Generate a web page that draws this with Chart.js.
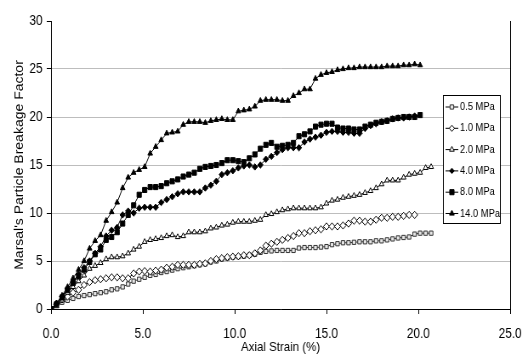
<!DOCTYPE html>
<html>
<head>
<meta charset="utf-8">
<script src="https://cdn.jsdelivr.net/npm/chart.js@4.4.0/dist/chart.umd.min.js"></script>
<style>
  html, body { margin: 0; padding: 0; background: #fff; overflow: hidden; }
  /* the original picture is squeezed sideways, so draw wider and squeeze */
  #wrap { width: 614px; height: 354px; transform: scaleX(0.8502); transform-origin: 0 0; }
</style>
</head>
<body>
<div id="wrap"><canvas id="breakage-chart" width="614" height="354"></canvas></div>
<script>
const strain = [
  0.0, 0.3, 0.6, 0.9, 1.2, 1.5, 1.8, 2.1, 2.4, 2.7,
  3.0, 3.3, 3.6, 3.9, 4.2, 4.5, 4.8, 5.1, 5.4, 5.7,
  6.0, 6.3, 6.6, 6.9, 7.2, 7.5, 7.8, 8.1, 8.4, 8.7,
  9.0, 9.3, 9.6, 9.9, 10.2, 10.5, 10.8, 11.1, 11.4, 11.7,
  12.0, 12.3, 12.6, 12.9, 13.2, 13.5, 13.8, 14.1, 14.4, 14.7,
  15.0, 15.3, 15.6, 15.9, 16.2, 16.5, 16.8, 17.1, 17.4, 17.7,
  18.0, 18.3, 18.6, 18.9, 19.2, 19.5, 19.8, 20.1, 20.4, 20.7
];

const labels = ["0.5 MPa", "1.0 MPa", "2.0 MPa", "4.0 MPa", "8.0 MPa", "14.0 MPa"];

const mpa05 = [
  0, 0.4, 0.7, 0.9, 1.1, 1.3, 1.4, 1.5, 1.6, 1.7,
  1.8, 2.0, 2.1, 2.3, 2.6, 2.9, 3.1, 3.3, 3.5, 3.6,
  3.8, 3.9, 4.05, 4.2, 4.3, 4.4, 4.5, 4.6, 4.7, 4.9,
  5.0, 5.2, 5.3, 5.4, 5.45, 5.5, 5.6, 5.7, 5.9, 6.0,
  6.05, 6.1, 6.1, 6.1, 6.1, 6.35, 6.4, 6.4, 6.4, 6.45,
  6.5, 6.7, 6.8, 6.9, 6.9, 6.95, 7.0, 7.0, 7.0, 7.1,
  7.1, 7.2, 7.3, 7.4, 7.45, 7.5, 7.8, 7.9, 7.9, 7.9
];
const mpa10 = [
  0, 0.5, 1.0, 1.3, 1.7, 2.0, 2.5, 2.8, 3.0, 3.1,
  3.2, 3.3, 3.3, 3.2, 3.2, 3.7, 3.9, 3.95, 3.9, 4.0,
  4.1, 4.3, 4.4, 4.6, 4.6, 4.6, 4.6, 4.7, 4.75, 5.0,
  5.2, 5.3, 5.4, 5.45, 5.5, 5.6, 5.6, 5.8, 6.1, 6.6,
  6.8, 7.0, 7.2, 7.4, 7.6, 7.9, 7.9, 8.1, 8.2, 8.3,
  8.6, 8.6, 8.6, 8.7, 8.9, 9.2, 9.2, 9.1, 9.1, 9.3,
  9.5, 9.5, 9.6, 9.6, 9.7, 9.8, 9.8
];
const mpa20 = [
  0, 0.3, 0.9, 1.7, 2.3, 2.9, 3.5, 4.2, 4.5, 4.8,
  5.2, 5.4, 5.4, 5.5, 5.8, 6.2, 6.5, 7.0, 7.2, 7.3,
  7.4, 7.6, 7.7, 7.5, 7.6, 8.0, 8.0, 8.0, 8.1, 8.4,
  8.5, 8.7, 8.8, 9.0, 9.1, 9.1, 9.1, 9.2, 9.3, 9.8,
  9.9, 10.1, 10.3, 10.4, 10.5, 10.5, 10.5, 10.5, 10.5, 10.6,
  11.0, 11.3, 11.4, 11.6, 11.7, 11.8, 11.9, 12.1, 12.3, 12.6,
  13.0, 13.4, 13.4, 13.4, 13.7, 14.0, 14.1, 14.2, 14.7, 14.8
];
const mpa40 = [
  0, 0.6, 1.3, 2.1, 2.9, 3.6, 4.3, 5.0, 5.8, 6.5,
  7.6, 8.2, 8.5, 9.8, 10.2, 10.0, 10.5, 10.6, 10.6, 10.6,
  11.1, 11.4, 11.7, 12.0, 12.2, 12.2, 12.2, 12.2, 12.6, 12.9,
  13.3, 14.0, 14.2, 14.4, 14.7, 14.9, 15.0, 14.8, 15.0, 15.6,
  15.9, 16.3, 16.6, 16.8, 16.8, 16.8, 17.4, 17.7, 17.9, 18.1,
  18.4, 18.5, 18.5, 18.4, 18.4, 18.3, 18.3, 18.8, 19.1, 19.3,
  19.5, 19.6, 19.8, 19.9, 19.9, 20.0, 20.1
];
const mpa80 = [
  0, 0.5, 1.2, 2.0, 2.7, 3.4, 4.1, 4.9, 5.7, 6.2,
  7.2, 7.5, 8.0, 8.9, 9.8, 10.8, 11.9, 12.4, 12.7, 12.7,
  12.8, 13.1, 13.3, 13.5, 13.8, 14.0, 14.2, 14.6, 14.8, 14.9,
  15.0, 15.2, 15.5, 15.5, 15.4, 15.3, 15.7, 16.1, 16.7, 17.1,
  17.3, 16.9, 17.0, 17.1, 17.3, 18.0, 18.2, 18.5, 19.0, 19.2,
  19.3, 19.3, 18.9, 18.8, 18.8, 18.7, 18.7, 19.0, 19.2, 19.4,
  19.5, 19.6, 19.8, 19.9, 20.0, 20.0, 20.0, 20.2
];
const mpa140 = [
  0, 0.6, 1.4, 2.3, 3.2, 4.1, 5.0, 6.3, 7.1, 7.7,
  9.2, 10.1, 11.1, 12.6, 13.7, 14.2, 14.5, 14.8, 16.2, 16.9,
  17.6, 18.3, 18.4, 18.5, 19.2, 19.5, 19.5, 19.5, 19.4, 19.6,
  19.7, 19.8, 19.7, 19.7, 20.6, 20.7, 20.8, 21.1, 21.7, 21.8,
  21.8, 21.8, 21.7, 21.7, 22.2, 22.5, 22.9, 22.9, 24.0, 24.4,
  24.6, 24.7, 24.9, 25.0, 25.1, 25.1, 25.2, 25.2, 25.2, 25.2,
  25.2, 25.3, 25.3, 25.3, 25.4, 25.4, 25.5, 25.4
];

const xTicks = [0, 5, 10, 15, 20, 25];
const yTicks = [0, 5, 10, 15, 20, 25, 30];

const seriesValues = [mpa05, mpa10, mpa20, mpa40, mpa80, mpa140];
const markers = [
  { style: "rect", radius: 3, fill: "#e6e6e6", line: "#333" },
  { style: "rectRot", radius: 3.6, fill: "#fff", line: "#000" },
  { style: "triangle", radius: 3.2, fill: "#fff", line: "#000" },
  { style: "rectRot", radius: 3.2, fill: "#000", line: "#000" },
  { style: "rect", radius: 3.6, fill: "#000", line: "#000" },
  { style: "triangle", radius: 3.2, fill: "#000", line: "#000" }
];

const FONT = "'Liberation Sans', Arial, sans-serif";

const datasets = seriesValues.map((vals, i) => ({
  label: labels[i],
  data: vals.map((v, j) => ({ x: strain[j], y: v })),
  borderColor: markers[i].line,
  borderWidth: 1,
  pointStyle: markers[i].style,
  pointRadius: markers[i].radius,
  pointBackgroundColor: markers[i].fill,
  pointBorderColor: markers[i].line,
  pointBorderWidth: 1,
  fill: false,
  tension: 0,
  order: 6 - i
}));

// marker shapes for the boxed legend
function drawMarker(ctx, m, x, y) {
  const r = m.radius;
  ctx.beginPath();
  if (m.style === "rect") {
    const s = r * Math.SQRT1_2;
    ctx.rect(x - s, y - s, 2 * s, 2 * s);
  } else if (m.style === "rectRot") {
    const s = r * Math.SQRT1_2 * 1.2;
    ctx.moveTo(x - s, y); ctx.lineTo(x, y + s); ctx.lineTo(x + s, y); ctx.lineTo(x, y - s);
    ctx.closePath();
  } else {
    ctx.moveTo(x, y - r); ctx.lineTo(x + r * 0.87, y + r * 0.5); ctx.lineTo(x - r * 0.87, y + r * 0.5);
    ctx.closePath();
  }
  ctx.fillStyle = m.fill;
  ctx.fill();
  ctx.strokeStyle = m.line;
  ctx.lineWidth = 1;
  ctx.stroke();
}

const framePlugin = {
  id: "frame",
  afterDraw(chart) {
    const ctx = chart.ctx;
    const a = chart.chartArea;
    ctx.save();
    // right edge of the plot area
    ctx.strokeStyle = "#000";
    ctx.lineWidth = 1;
    ctx.beginPath();
    ctx.moveTo(Math.round(a.right) + 0.5, a.top);
    ctx.lineTo(Math.round(a.right) + 0.5, a.bottom);
    ctx.stroke();

    // legend box
    const bx = 521, by = 95, bw = 67, bh = 128;
    ctx.fillStyle = "#fff";
    ctx.fillRect(bx, by, bw, bh);
    ctx.strokeRect(bx + 0.5, by + 0.5, bw, bh);
    ctx.font = "11px " + FONT;
    ctx.textBaseline = "middle";
    labels.forEach((t, i) => {
      const y = by + 12 + i * 21.3;
      ctx.strokeStyle = "#000";
      ctx.beginPath();
      ctx.moveTo(bx + 3, y); ctx.lineTo(bx + 18, y);
      ctx.stroke();
      drawMarker(ctx, markers[i], bx + 10.5, y);
      ctx.fillStyle = "#000";
      ctx.fillText(t, bx + 20, y);
    });
    ctx.restore();
  }
};

new Chart(document.getElementById("breakage-chart"), {
  type: "line",
  data: { datasets },
  options: {
    responsive: false,
    animation: false,
    layout: { padding: { top: 21, right: 14, left: 0, bottom: 0 } },
    plugins: { legend: { display: false }, tooltip: { enabled: false } },
    scales: {
      x: {
        type: "linear",
        min: xTicks[0],
        max: xTicks[xTicks.length - 1],
        afterBuildTicks: (s) => { s.ticks = xTicks.map((v) => ({ value: v })); },
        afterFit: (s) => { s.height = 45; s.paddingRight = 0; s.paddingLeft = 0; },
        ticks: { callback: (v) => Number(v).toFixed(1), color: "#000", font: { family: FONT, size: 14 }, padding: 12, maxRotation: 0 },
        grid: { drawOnChartArea: false, tickLength: 5, tickColor: "#000" },
        border: { color: "#000", width: 1 },
        title: { display: true, text: "Axial Strain (%)", color: "#000", font: { family: FONT, size: 13.5 }, padding: { top: 0, bottom: -1 } }
      },
      y: {
        min: yTicks[0],
        max: yTicks[yTicks.length - 1],
        afterBuildTicks: (s) => { s.ticks = yTicks.map((v) => ({ value: v })); },
        afterFit: (s) => { s.width = 60; },
        ticks: { color: "#000", font: { family: FONT, size: 14 }, padding: 5 },
        grid: {
          color: (c) => (c.tick && (c.tick.value === 0 || c.tick.value === 30)) ? "rgba(0,0,0,0)" : "#bdbdbd",
          tickLength: 5,
          tickColor: "#000"
        },
        border: { color: "#000", width: 1 },
        title: { display: true, text: "Marsal's Particle Breakage Factor", color: "#000", font: { family: FONT, size: 14 }, padding: { top: 15, bottom: 0 } }
      }
    }
  },
  plugins: [framePlugin]
});
</script>
</body>
</html>
